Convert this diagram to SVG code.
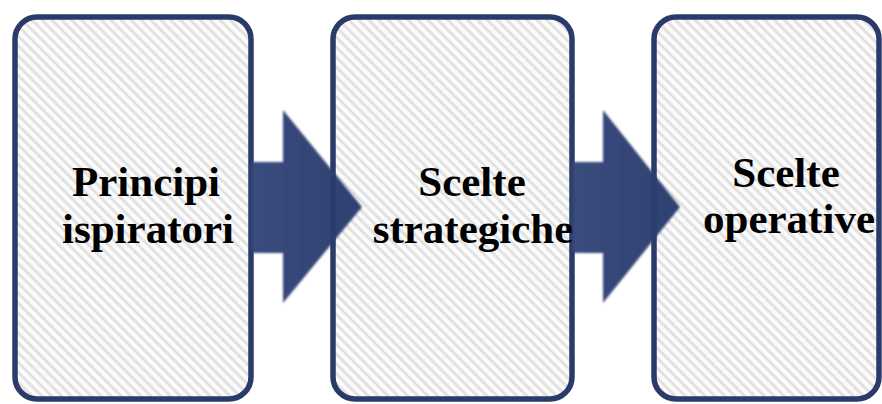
<svg xmlns="http://www.w3.org/2000/svg" width="882" height="404" viewBox="0 0 882 404">
  <defs>
    <pattern id="hatch" width="7" height="7" patternUnits="userSpaceOnUse" patternTransform="rotate(-45)">
      <rect width="7" height="7" fill="#fbfbfb"/>
      <rect width="3" height="7" fill="#e2e2e2"/>
    </pattern>
    <filter id="soft" x="-10%" y="-10%" width="120%" height="120%">
      <feGaussianBlur stdDeviation="0.6"/>
    </filter>
    <filter id="arrowBlur" x="-20%" y="-20%" width="140%" height="140%">
      <feGaussianBlur stdDeviation="1"/>
    </filter>
    <linearGradient id="arrowFill" x1="0" y1="0" x2="1" y2="0">
      <stop offset="0" stop-color="#34477a"/>
      <stop offset="1" stop-color="#2a3b6c"/>
    </linearGradient>
  </defs>
  <style>
    .box { fill: url(#hatch); stroke: #2b3a6b; stroke-width: 5.5; filter: url(#soft); }
    .arrow { fill: url(#arrowFill); opacity: 0.97; filter: url(#arrowBlur); }
    .label { font-family: "Liberation Serif", "Times New Roman", serif; font-weight: bold; font-size: 43px; fill: #000; text-anchor: middle; }
  </style>
  <rect width="882" height="404" fill="#ffffff"/>

  <g id="node-principi">
    <rect class="box" x="15" y="17" width="236" height="382" rx="22" ry="22"/>
    <text class="label" x="146" y="196">Principi</text>
    <text class="label" x="148" y="243">ispiratori</text>
  </g>

  <g id="node-strategiche">
    <rect class="box" x="333" y="17" width="239" height="382" rx="22" ry="22"/>
    <text class="label" x="472" y="196">Scelte</text>
    <text class="label" x="473" y="243">strategiche</text>
  </g>

  <g id="node-operative">
    <rect class="box" x="654" y="17" width="225" height="382" rx="22" ry="22"/>
    <text class="label" x="786" y="187">Scelte</text>
    <text class="label" x="789" y="233">operative</text>
  </g>

  <g id="connectors">
    <polygon class="arrow" points="251,162 283,162 283,110 362,207 283,303 283,253 251,253"/>
    <polygon class="arrow" points="572,162 603,162 603,110 680,207 603,303 603,253 572,253"/>
  </g>
</svg>
